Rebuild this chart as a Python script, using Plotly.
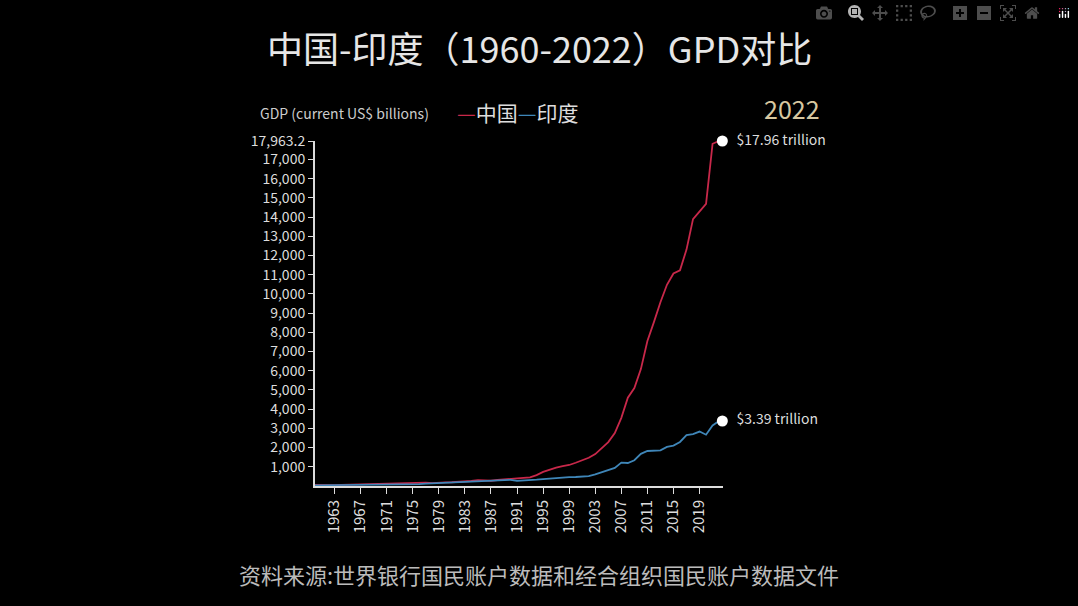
import plotly.graph_objects as go

years = list(range(1960, 2023))
china = [59.7,50.1,47.2,50.7,59.7,70.4,76.7,72.9,70.8,79.7,92.6,99.8,113.7,138.5,144.2,163.4,153.9,174.9,149.5,178.3,
         191.1,195.9,205.1,230.7,259.9,309.5,300.8,272.9,312.4,347.8,360.9,383.4,426.9,444.7,564.3,734.5,863.7,961.6,1029,1094,
         1211,1339,1471,1660,1955,2286,2752,3550,4594,5102,6087,7552,8532,9570,10476,11062,11233,12310,13895,14280,
         14688,17820,17963.2]
india = [37.0,39.2,42.2,48.4,56.5,59.6,45.9,50.1,53.1,58.4,62.4,67.4,71.5,85.5,99.5,98.5,102.7,121.5,137.3,153.0,
         186.3,193.5,200.7,218.3,212.2,232.5,249.0,279.0,296.6,296.0,321.0,270.1,288.2,279.3,327.3,360.3,392.9,415.9,421.4,458.8,
         468.4,485.4,514.9,607.7,709.1,820.4,940.3,1216.7,1198.9,1341.9,1675.6,1823.1,1827.6,1856.7,2039.1,2103.6,2294.8,2651.5,2702.9,2835.6,
         2671.6,3150.3,3385.1]
ytick_vals = [1000*i for i in range(1, 18)] + [17963.2]
ytick_text = [f"{v:,}" for v in range(1000, 18000, 1000)] + ["17,963.2"]
xtick_vals = list(range(1963, 2020, 4))
end_labels = ["$17.96 trillion", "$3.39 trillion"]

RED = "#c8284a"
BLUE = "#3f86b8"
FONT = "Noto Sans CJK SC"
W, H = 1078, 606
L, R, T, B = 315, 355, 141, 120
pw, ph = W - L - R, H - T - B

def px(x):
    return (x - L) / pw

def py(y):
    return (H - B - y) / ph

fig = go.Figure()
fig.add_trace(go.Scatter(x=years, y=china, mode="lines", line=dict(color=RED, width=1.8), showlegend=False))
fig.add_trace(go.Scatter(x=years, y=india, mode="lines", line=dict(color=BLUE, width=1.8), showlegend=False))
fig.add_trace(go.Scatter(x=[2022.5, 2022.5], y=[china[-1], india[-1]], mode="markers+text",
                         marker=dict(color="white", size=11), text=["  " + t for t in end_labels],
                         textposition="middle right", textfont=dict(color="#dddddd", size=14, family=FONT),
                         showlegend=False, cliponaxis=False))

def ann(text, x, y, size, color, xanchor="center"):
    return dict(text=text, x=px(x), y=py(y), xref="paper", yref="paper", showarrow=False,
                xanchor=xanchor, yanchor="middle", font=dict(size=size, color=color))

fig.update_layout(
    width=W, height=H, paper_bgcolor="black", plot_bgcolor="black",
    margin=dict(l=L, r=R, t=T, b=B),
    font=dict(family=FONT, color="#dddddd"),
    xaxis=dict(range=[1960, 2022.6], showgrid=False, zeroline=False, showline=True, linecolor="#dddddd", linewidth=2,
               tickvals=xtick_vals, ticks="outside", tickcolor="#dddddd", ticklen=6, tickangle=-90,
               tickfont=dict(size=15, color="#dddddd")),
    yaxis=dict(range=[0, 17963.2], showgrid=False, zeroline=False, showline=True, linecolor="#dddddd", linewidth=2,
               tickvals=ytick_vals, ticktext=ytick_text, ticks="outside", tickcolor="#dddddd", ticklen=5,
               tickfont=dict(size=14, color="#dddddd")),
    annotations=[
        ann("中国-印度（1960-2022）GPD对比", 539, 47, 36, "#e6e6e6"),
        ann("资料来源:世界银行国民账户数据和经合组织国民账户数据文件", 539, 574, 22, "#bbbbbb"),
        ann("GDP (current US$ billions)", 258, 113, 14, "#cccccc", "left"),
        ann(f"<span style='color:{RED}'>—</span>中国<span style='color:{BLUE}'>—</span>印度", 455, 112, 21, "#dddddd", "left"),
        ann("2022", 822, 108, 25, "#d8c8a0", "right"),
    ],
)
fig.write_html("out.html")
with open("out.html", encoding="utf-8") as f:
    html = f.read()
html = html.replace("<head>", "<head><style>html,body{margin:0;padding:0;background:black;overflow:hidden}</style>", 1)
with open("out.html", "w", encoding="utf-8") as f:
    f.write(html)
